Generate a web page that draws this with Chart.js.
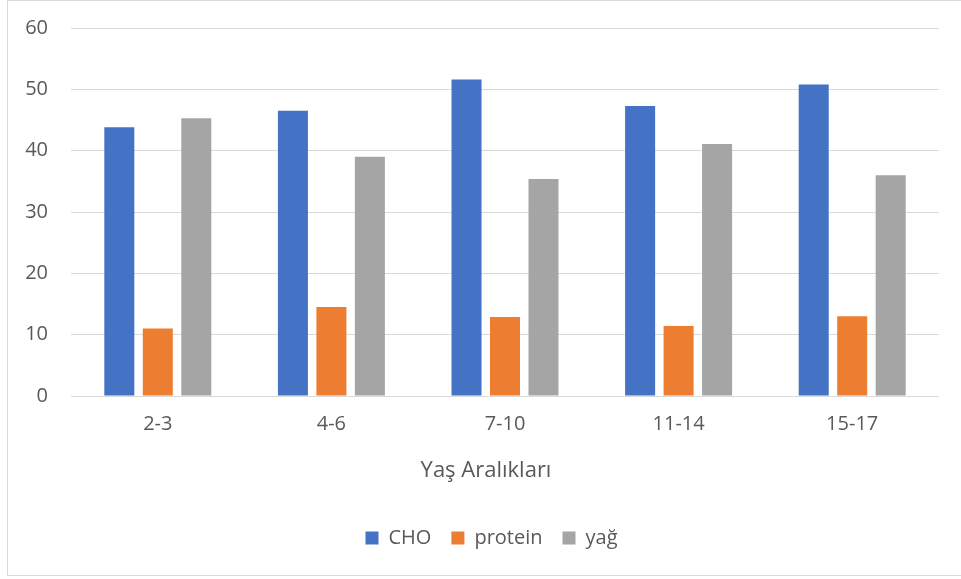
<!DOCTYPE html>
<html>
<head>
<meta charset="utf-8">
<script src="https://cdn.jsdelivr.net/npm/chart.js@4/dist/chart.umd.min.js"></script>
<style>
  body { margin: 0; background: #fff; }
  #frame { position: absolute; left: 7px; top: 0; width: 970px; height: 574px; border: 1px solid #d9d9d9; }
  #wrap { position: absolute; left: 0; top: 0; width: 961px; height: 579px; }
</style>
</head>
<body>
<div id="frame"></div>
<div id="wrap"><canvas id="grafica"></canvas></div>
<script>
const labels = ['2-3', '4-6', '7-10', '11-14', '15-17'];
const cho = [43.8, 46.5, 51.6, 47.3, 50.8];
const protein = [11.0, 14.5, 12.9, 11.4, 13.0];
const yag = [45.3, 39.0, 35.4, 41.1, 36.0];
const yTicks = [0, 10, 20, 30, 40, 50, 60];

const fontFamily = '"Open Sans", "Noto Sans", sans-serif';
const textColor = '#595959';

const graph = document.querySelector('#grafica');

// in the original the legend sits a bit right of centre and the axis title a bit left
const nudges = {
    id: 'nudges',
    afterLayout(chart) {
        chart.legend.left += 22;
        chart.legend.right += 22;
        const sx = chart.scales.x;
        if (!sx._nudged) {
            const orig = sx.drawTitle.bind(sx);
            sx.drawTitle = function () {
                this.ctx.save();
                this.ctx.translate(-19, 0);
                orig();
                this.ctx.restore();
            };
            sx._nudged = true;
        }
    }
};

const data = {
    labels: labels,
    datasets: [
        { label: 'CHO', data: cho, backgroundColor: '#4472C4' },
        { label: 'protein', data: protein, backgroundColor: '#ED7D31' },
        { label: 'yağ', data: yag, backgroundColor: '#A5A5A5' }
    ]
};

const config = {
    type: 'bar',
    data: data,
    plugins: [nudges],
    options: {
        responsive: true,
        maintainAspectRatio: false,
        animation: false,
        categoryPercentage: 0.665,
        barPercentage: 0.78,
        layout: { padding: { top: 28, right: 22, bottom: 21, left: 0 } },
        plugins: {
            tooltip: { enabled: false },
            legend: {
                position: 'bottom',
                labels: {
                    boxWidth: 13,
                    boxHeight: 13,
                    padding: 20,
                    color: textColor,
                    font: { family: fontFamily, size: 20 }
                }
            }
        },
        scales: {
            x: {
                grid: { display: false, drawTicks: false },
                border: { display: false },
                ticks: { color: textColor, padding: 16, font: { family: fontFamily, size: 20 } },
                title: {
                    display: true,
                    text: 'Yaş Aralıkları',
                    color: textColor,
                    font: { family: fontFamily, size: 22 },
                    padding: { top: 0, bottom: 24 }
                },
                afterFit: (scale) => { scale.height = 112; }
            },
            y: {
                min: 0,
                max: 60,
                afterBuildTicks: (scale) => { scale.ticks = yTicks.map(v => ({ value: v })); },
                grid: { color: '#d9d9d9', lineWidth: 1, drawTicks: false },
                border: { display: false },
                ticks: { color: textColor, padding: 23, font: { family: fontFamily, size: 20 } },
                afterFit: (scale) => {
                    scale.width = 71;
                    scale.paddingTop = 0;
                    scale.paddingBottom = 0;
                }
            }
        }
    }
};

new Chart(graph, config);
</script>
</body>
</html>
